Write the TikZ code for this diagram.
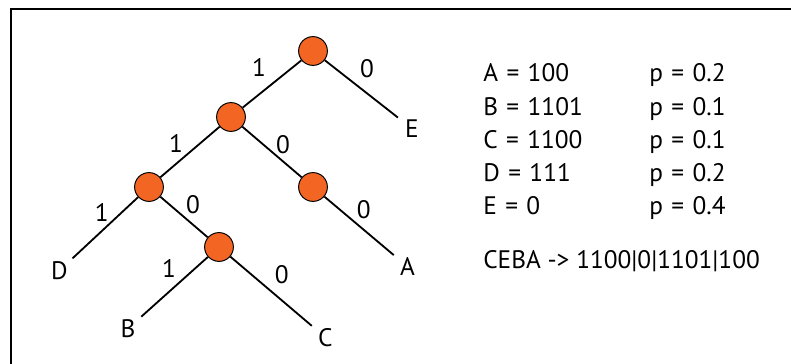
\documentclass[tikz,border=0pt]{standalone}
\usepackage{fontspec}
\setmainfont{PT Sans}
\usepackage{tikz}
\usetikzlibrary{positioning}

\definecolor{nodeorange}{RGB}{242,101,34}
\newcommand{\treefont}{\fontsize{18pt}{21pt}\selectfont}

\begin{document}
\begin{tikzpicture}[
  on grid,
  bit/.style={circle, draw, line width=0.7pt, fill=nodeorange, minimum size=0.72cm, inner sep=0pt},
  leaf/.style={circle, minimum size=0.88cm, inner sep=0pt, font=\treefont},
  branch/.style={line width=1.3pt},
  lbl/.style={font=\treefont, inner sep=0pt},
  code/.style={font=\treefont, text width=3.6cm, align=left, inner sep=0pt, text height=13pt, text depth=4pt},
  frame/.style={line width=1.5pt}
]
  \useasboundingbox (0,0) rectangle (19.775,-9.1);
  \draw[frame] (0.275,-9.1) -- (0.275,-0.225) -- (19.775,-0.225);

  % Baum
  \node[bit] (root) at (7.825,-1.275) {};
  \node[bit, below left=1.65cm and 2.05cm of root] (n1) {};
  \node[bit, below left=1.75cm and 2.05cm of n1] (n11) {};
  \node[bit, below right=1.75cm and 2.05cm of n1] (n10) {};
  \node[bit, below right=1.5cm and 1.75cm of n11] (n110) {};

  \node[leaf, below right=1.94cm and 2.475cm of root] (E) {E};
  \node[leaf, below right=1.99cm and 2.36cm of n10] (A) {A};
  \node[leaf, below left=2.09cm and 2.24cm of n11] (D) {D};
  \node[leaf, below left=2.04cm and 2.275cm of n110] (B) {B};
  \node[leaf, below right=2.26cm and 2.66cm of n110] (C) {C};

  \draw[branch] (root) -- node[lbl, midway, xshift=-0.325cm, yshift=0.425cm] (l1) {1} (n1);
  \draw[branch] (root) -- node[lbl, midway, xshift=0.14cm, yshift=0.51cm] (l0) {0} (E);
  \draw[branch] (n1) -- node[lbl, midway, xshift=-0.35cm, yshift=0.225cm] (l11) {1} (n11);
  \draw[branch] (n1) -- node[lbl, midway, xshift=0.275cm, yshift=0.175cm] (l10) {0} (n10);
  \draw[branch] (n11) -- node[lbl, midway, xshift=-0.085cm, yshift=0.39cm] (l111) {1} (D);
  \draw[branch] (n11) -- node[lbl, midway, xshift=0.225cm, yshift=0.3cm] (l110) {0} (n110);
  \draw[branch] (n10) -- node[lbl, midway, xshift=0.12cm, yshift=0.395cm] (l100) {0} (A);
  \draw[branch] (n110) -- node[lbl, midway, xshift=-0.14cm, yshift=0.47cm] (l1101) {1} (B);
  \draw[branch] (n110) -- node[lbl, midway, xshift=0.27cm, yshift=0.41cm] (l1100) {0} (C);

  % Codes
  \node[code, anchor=base west] (ca) at (12.075,-2.05) {A = 100};
  \node[code, below=0.83cm of ca] (cb) {B = 1101};
  \node[code, below=0.83cm of cb] (cc) {C = 1100};
  \node[code, below=0.83cm of cc] (cd) {D = 111};
  \node[code, below=0.83cm of cd] (ce) {E = 0};

  \node[code, right=4.15cm of ca] (pa) {p = 0.2};
  \node[code, right=4.15cm of cb] (pb) {p = 0.1};
  \node[code, right=4.15cm of cc] (pc) {p = 0.1};
  \node[code, right=4.15cm of cd] (pd) {p = 0.2};
  \node[code, right=4.15cm of ce] (pe) {p = 0.4};

  \node[font=\treefont, inner sep=0pt, anchor=base west] (ceba) at ([yshift=-1.33cm]ce.base west) {CEBA -> 1100|0|1101|100};
\end{tikzpicture}
\end{document}
